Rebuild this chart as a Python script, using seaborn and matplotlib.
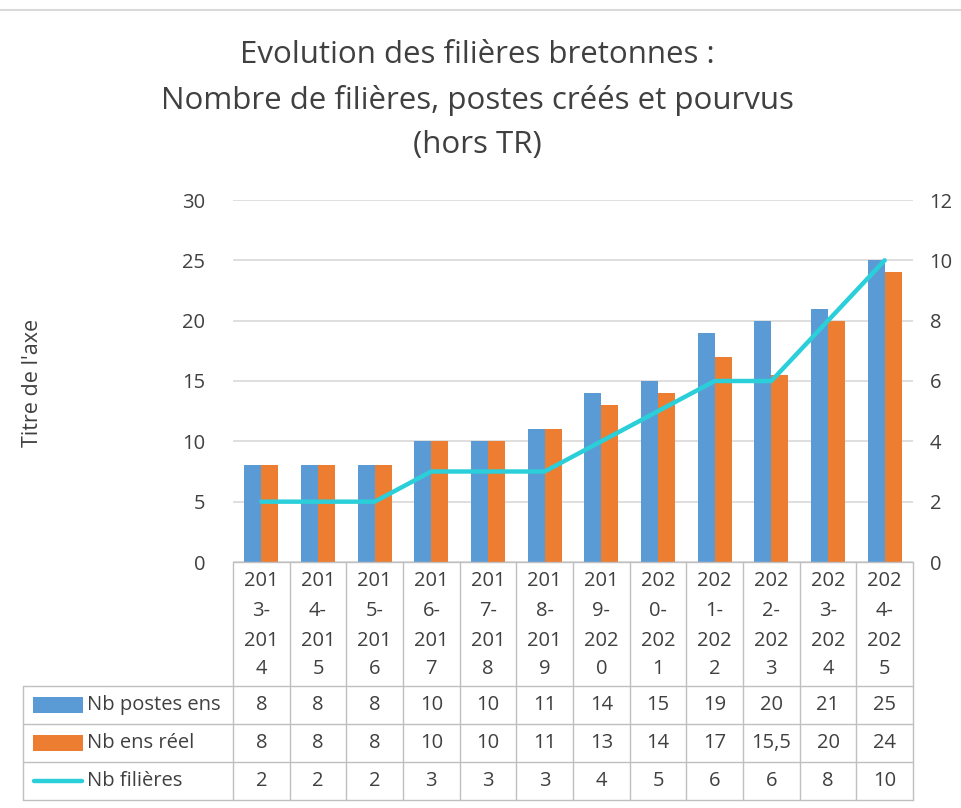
import numpy as np
import pandas as pd
import matplotlib
matplotlib.use("Agg")
import matplotlib.pyplot as plt
import seaborn as sns

# Data
years = ["2013-2014", "2014-2015", "2015-2016", "2016-2017", "2017-2018", "2018-2019",
         "2019-2020", "2020-2021", "2021-2022", "2022-2023", "2023-2024", "2024-2025"]
postes_ens = [8, 8, 8, 10, 10, 11, 14, 15, 19, 20, 21, 25]
ens_reel = [8, 8, 8, 10, 10, 11, 13, 14, 17, 15.5, 20, 24]
nb_filieres = [2, 2, 2, 3, 3, 3, 4, 5, 6, 6, 8, 10]
series_names = ["Nb postes ens", "Nb ens réel", "Nb filières"]

c_blue = "#5B9BD5"
c_orange = "#ED7D31"
c_line = "#2ACFD9"
grid_c = "#D9D9D9"
txt_c = "#404040"

sns.set_style("white")
plt.rcParams['font.family'] = ['Open Sans', 'DejaVu Sans']

W, H = 961, 808
fig = plt.figure(figsize=(W / 100, H / 100), dpi=100)

# pixel helpers
def fx(x):
    return x / W

def fy(y):
    return 1 - y / H

x0, x1 = 233, 913
y_top, y_bot = 200, 562
ax = fig.add_axes([fx(x0), fy(y_bot), fx(x1) - fx(x0), fy(y_top) - fy(y_bot)])

df = pd.DataFrame({
    "year": years * 2,
    "val": postes_ens + ens_reel,
    "serie": [series_names[0]] * len(years) + [series_names[1]] * len(years),
})
sns.barplot(data=df, x="year", y="val", hue="serie", palette=[c_blue, c_orange],
            width=0.6, gap=0, ax=ax, legend=False, saturation=1)
for b in ax.patches:
    b.set_linewidth(0)

ax.set_ylim(0, 30)
ax.set_yticks(range(0, 31, 5))
ax.set_xlim(-0.5, len(years) - 0.5)
ax.grid(axis="y", color=grid_c, linewidth=1.2)
ax.set_axisbelow(True)
for s in ax.spines.values():
    s.set_visible(False)
ax.set_xticks([])
ax.set_xlabel("")
ax.set_ylabel("")
ax.tick_params(axis="y", length=0, pad=20, labelsize=14.5, labelcolor=txt_c)

ax2 = ax.twinx()
sns.lineplot(x=np.arange(len(years)), y=nb_filieres, color=c_line, linewidth=3.2,
             ax=ax2, solid_capstyle="round", solid_joinstyle="round")
ax2.set_ylim(0, 12)
ax2.set_yticks(range(0, 13, 2))
ax2.tick_params(axis="y", length=0, pad=12, labelsize=14.5, labelcolor=txt_c)
for s in ax2.spines.values():
    s.set_visible(False)
ax2.set_ylabel("")

# title and axis title
fs_title = 22.5
fig.text(0.497, fy(55), "Evolution des filières bretonnes :", ha="center", va="center",
         fontsize=fs_title, color=txt_c)
fig.text(0.497, fy(100), "Nombre de filières, postes créés et pourvus", ha="center",
         va="center", fontsize=fs_title, color=txt_c)
fig.text(0.497, fy(145), "(hors TR)", ha="center", va="center", fontsize=fs_title, color=txt_c)
fig.text(fx(32), fy(383), "Titre de l'axe", rotation=90, ha="center", va="center",
         fontsize=15.5, color=txt_c)

# top separator line
fig.add_artist(plt.Line2D([0, 1], [fy(10), fy(10)], color="#D9D9D9", linewidth=1.5))

# data table
line_c = "#BFBFBF"
cw = (x1 - x0) / len(years)
row_y = [686, 724, 762, 800]
lab_left = 23

fig.add_artist(plt.Line2D([fx(x0), fx(x1)], [fy(y_bot), fy(y_bot)], color=line_c, lw=1))
for i in range(len(years) + 1):
    xx = x0 + i * cw
    fig.add_artist(plt.Line2D([fx(xx), fx(xx)], [fy(y_bot), fy(row_y[-1])], color=line_c, lw=1))
fig.add_artist(plt.Line2D([fx(lab_left), fx(lab_left)], [fy(row_y[0]), fy(row_y[-1])],
                          color=line_c, lw=1))
for yy in row_y:
    fig.add_artist(plt.Line2D([fx(lab_left), fx(x1)], [fy(yy), fy(yy)], color=line_c, lw=1))

# category labels wrapped like Excel (3 chars per line)
fs_tab = 14.5
cat_lines_y = [581, 611, 641, 669]
for i, yr in enumerate(years):
    parts = [yr[:3], yr[3:5], yr[5:8], yr[8:]]
    cx = x0 + (i + 0.5) * cw
    for p, yy in zip(parts, cat_lines_y):
        fig.text(fx(cx), fy(yy), p, ha="center", va="center", fontsize=fs_tab, color=txt_c)

def fmt(v):
    return str(v).replace(".", ",") if v != int(v) else str(int(v))

rows = [postes_ens, ens_reel, nb_filieres]
for r, vals in enumerate(rows):
    yc = (row_y[r] + row_y[r + 1]) / 2
    for i, v in enumerate(vals):
        cx = x0 + (i + 0.5) * cw
        fig.text(fx(cx), fy(yc), fmt(v), ha="center", va="center", fontsize=fs_tab, color=txt_c)
    # legend keys
    if r < 2:
        col = [c_blue, c_orange][r]
        fig.add_artist(plt.Rectangle((fx(33), fy(yc + 8)), fx(50), 16 / H, color=col, lw=0))
    else:
        fig.add_artist(plt.Line2D([fx(34), fx(82)], [fy(yc), fy(yc)], color=c_line, lw=3.2,
                                  solid_capstyle="round"))
    fig.text(fx(87), fy(yc), series_names[r], ha="left", va="center", fontsize=fs_tab,
             color=txt_c)

fig.savefig("out.png", dpi=100)
